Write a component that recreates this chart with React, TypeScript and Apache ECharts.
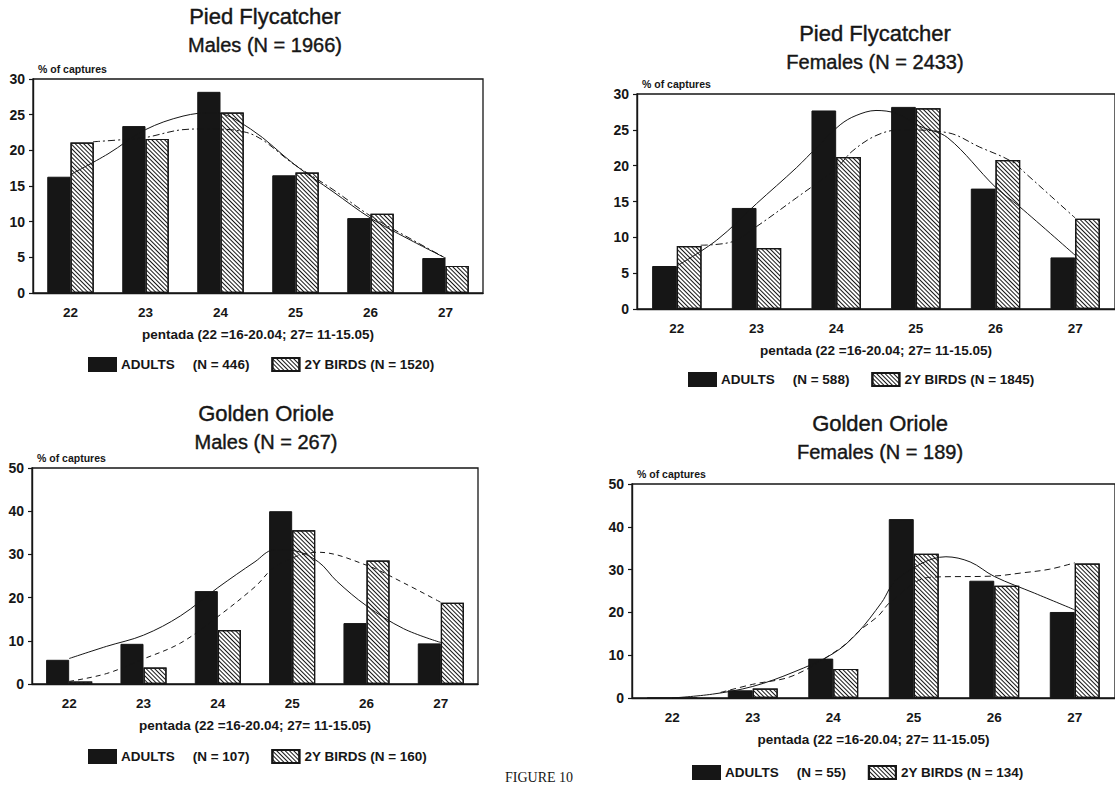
import React, { useEffect, useRef } from 'react';
import * as echarts from 'echarts';

// ---------- data ----------
const categories = ['22', '23', '24', '25', '26', '27'];
const xAxisTitle = 'pentada (22 =16-20.04; 27= 11-15.05)';
const yAxisTitle = '% of captures';

// Pied Flycatcher, males
const pfMaleAdults = [16.3, 23.4, 28.2, 16.5, 10.5, 4.9];
const pfMaleBirds = [21.1, 21.6, 25.3, 16.9, 11.1, 3.8];
const pfMaleAdultCurve = [[22, 16.6], [22.5, 19.5], [23, 22.9], [23.5, 24.8], [23.9, 25.3], [24.4, 23.0], [25, 17.9], [25.5, 14.2], [26, 10.5], [26.5, 7.6], [27, 4.9]];
const pfMaleBirdCurve = [[22.3, 21.2], [22.7, 21.5], [23, 21.8], [23.5, 22.9], [23.8, 23.0], [24.35, 22.5], [25, 17.9], [25.5, 14.5], [26, 10.8], [26.5, 7.8], [27, 4.9]];

// Pied Flycatcher, females
const pfFemaleAdults = [6.0, 14.1, 27.7, 28.2, 16.8, 7.2];
const pfFemaleBirds = [8.8, 8.5, 21.2, 28.0, 20.8, 12.6];
const pfFemaleAdultCurve = [[22, 6.0], [22.5, 9.6], [23, 14.7], [23.5, 19.7], [23.76, 22.6], [24.05, 25.7], [24.25, 27.0], [24.5, 27.7], [24.75, 27.3], [25.05, 25.5], [25.4, 23.9], [26, 17.0], [26.3, 14.3], [27, 7.5]];
const pfFemaleBirdCurve = [[22.3, 8.9], [22.7, 9.4], [23, 11.5], [23.5, 15.5], [24, 19.6], [24.2, 22.0], [24.5, 24.2], [24.8, 25.0], [25.4, 24.6], [25.8, 22.6], [26.2, 20.6], [26.4, 18.7], [26.7, 15.7], [27, 12.7]];

// Golden Oriole, males
const goMaleAdults = [5.6, 9.3, 21.5, 40.0, 14.1, 9.4];
const goMaleBirds = [0.6, 3.8, 12.5, 35.6, 28.6, 18.8];
const goMaleAdultCurve = [[22, 5.9], [22.5, 8.7], [23, 11.3], [23.5, 15.8], [24, 22.3], [24.5, 28.3], [24.75, 31.0], [25, 30.9], [25.35, 28.3], [25.6, 23.8], [26, 18.1], [26.5, 12.8], [27, 9.6]];
const goMaleBirdCurve = [[22, 0.6], [22.5, 2.4], [23, 5.8], [23.5, 9.5], [24, 15.6], [24.5, 22.5], [24.8, 27.5], [25.35, 30.5], [26, 27.5], [26.5, 23.4], [27, 18.9]];

// Golden Oriole, females
const goFemaleAdults = [0, 1.8, 9.2, 41.8, 27.4, 20.1];
const goFemaleBirds = [0, 2.2, 6.8, 33.7, 26.2, 31.4];
const goFemaleAdultCurve = [[22, 0], [22.5, 0.9], [23, 2.7], [23.5, 6.0], [24, 10.4], [24.3, 15.2], [24.6, 22.3], [24.8, 27.9], [25.4, 33.0], [25.7, 31.8], [26, 28.4], [26.5, 24.5], [27, 20.6]];
const goFemaleBirdCurve = [[22.6, 1.3], [23, 3.2], [23.5, 5.2], [24.1, 11.8], [24.33, 15.8], [24.56, 19.2], [24.71, 22.4], [25.2, 28.2], [26, 28.5], [26.33, 29.2], [26.69, 30.1], [27, 31.6]];

const titles = ['Pied Flycatcher', 'Pied Flycatcher', 'Golden Oriole', 'Golden Oriole'];
const subtitles = ['Males (N = 1966)', 'Females (N = 2433)', 'Males (N = 267)', 'Females (N = 189)'];
const adultLegends = ['ADULTS (N = 446)', 'ADULTS (N = 588)', 'ADULTS (N = 107)', 'ADULTS (N = 55)'];
const birdLegends = ['2Y BIRDS (N = 1520)', '2Y BIRDS (N = 1845)', '2Y BIRDS (N = 160)', '2Y BIRDS (N = 134)'];
const yMaxes = [30, 30, 50, 50];
const yIntervals = [5, 5, 10, 10];
const figureCaption = 'FIGURE 10';

// ---------- layout / style ----------
const FONT = '"Liberation Sans", Arial, Helvetica, sans-serif';
const INK = '#161616';

const layouts = [
  { left: 33, top: 79, width: 450, height: 214, titleX: 265, titleY: 16, subY: 45, legendLeft: 88, legendTop: 357 },
  { left: 637, top: 94, width: 492, height: 215, titleX: 875, titleY: 33, subY: 62, legendLeft: 688, legendTop: 372 },
  { left: 32, top: 468, width: 446, height: 216, titleX: 266, titleY: 413, subY: 442, legendLeft: 88, legendTop: 749 },
  { left: 632, top: 484, width: 494, height: 214, titleX: 880, titleY: 423, subY: 452, legendLeft: 692, legendTop: 765 },
];

const dashStyles: any[] = [[7, 3, 2, 3], [7, 3, 2, 3], [5, 4], [6, 4]];

const hatchDecal = {
  symbol: 'rect',
  symbolSize: 1,
  color: INK,
  dashArrayX: [1, 0],
  dashArrayY: [1, 1.7],
  rotation: Math.PI / 4,
};

function buildOption() {
  const adultsAll = [pfMaleAdults, pfFemaleAdults, goMaleAdults, goFemaleAdults];
  const birdsAll = [pfMaleBirds, pfFemaleBirds, goMaleBirds, goFemaleBirds];
  const adultCurves = [pfMaleAdultCurve, pfFemaleAdultCurve, goMaleAdultCurve, goFemaleAdultCurve];
  const birdCurves = [pfMaleBirdCurve, pfFemaleBirdCurve, goMaleBirdCurve, goFemaleBirdCurve];

  const grid: any[] = [];
  const xAxis: any[] = [];
  const yAxis: any[] = [];
  const series: any[] = [];
  const legend: any[] = [];
  const graphic: any[] = [];

  layouts.forEach((l, i) => {
    grid.push({
      left: l.left, top: l.top, width: l.width, height: l.height,
      show: true, borderColor: INK, borderWidth: 1.3, containLabel: false,
    });
    xAxis.push({
      type: 'category', gridIndex: i, data: categories, boundaryGap: true,
      axisLine: { lineStyle: { color: INK, width: 1.4 } },
      axisTick: { alignWithLabel: true, length: 4, lineStyle: { color: INK, width: 1.2 } },
      axisLabel: { margin: 12, color: INK, fontFamily: FONT, fontWeight: 'bold', fontSize: 13.5 },
      name: xAxisTitle, nameLocation: 'middle', nameGap: 34,
      nameTextStyle: { color: INK, fontFamily: FONT, fontWeight: 'bold', fontSize: 13.5 },
    });
    xAxis.push({ type: 'value', gridIndex: i, min: 21.5, max: 27.5, show: false });
    yAxis.push({
      type: 'value', gridIndex: i, min: 0, max: yMaxes[i], interval: yIntervals[i],
      splitLine: { show: false },
      axisLine: { show: true, lineStyle: { color: INK, width: 1.4 } },
      axisTick: { show: true, length: 4, lineStyle: { color: INK, width: 1.2 } },
      axisLabel: { margin: 8, color: INK, fontFamily: FONT, fontWeight: 'bold', fontSize: 14 },
      name: yAxisTitle, nameLocation: 'end', nameGap: 5,
      nameTextStyle: { color: INK, fontFamily: FONT, fontWeight: 'bold', fontSize: 10.5, align: 'left', padding: [0, 0, 0, 5] },
    });
    series.push({
      type: 'bar', name: adultLegends[i], xAxisIndex: 2 * i, yAxisIndex: i,
      data: adultsAll[i], barGap: '0%', barCategoryGap: '38%',
      itemStyle: { color: INK, borderColor: INK, borderWidth: 1 },
    });
    series.push({
      type: 'bar', name: birdLegends[i], xAxisIndex: 2 * i, yAxisIndex: i,
      data: birdsAll[i], barGap: '0%', barCategoryGap: '38%',
      itemStyle: { color: '#ffffff', borderColor: INK, borderWidth: 1.2, decal: hatchDecal },
    });
    series.push({
      type: 'line', xAxisIndex: 2 * i + 1, yAxisIndex: i, data: adultCurves[i],
      smooth: 0.35, symbol: 'none', silent: true, z: 5,
      lineStyle: { color: INK, width: 1 },
    });
    series.push({
      type: 'line', xAxisIndex: 2 * i + 1, yAxisIndex: i, data: birdCurves[i],
      smooth: 0.35, symbol: 'none', silent: true, z: 5,
      lineStyle: { color: INK, width: 1, type: dashStyles[i] },
    });
    legend.push({
      data: [adultLegends[i], birdLegends[i]],
      left: l.legendLeft, top: l.legendTop, orient: 'horizontal', padding: 0,
      itemWidth: 27, itemHeight: 13, itemGap: 22, icon: 'rect', selectedMode: false,
      formatter: (name: string) => {
        if (name.indexOf('ADULTS') === 0) {
          return '{a|ADULTS}{s|}{a|' + name.slice(7) + '}';
        }
        return '{a|' + name + '}';
      },
      textStyle: {
        color: INK, fontFamily: FONT, fontWeight: 'bold', fontSize: 13.5,
        rich: {
          a: { color: INK, fontFamily: FONT, fontWeight: 'bold', fontSize: 13.5 },
          s: { width: 18 },
        },
      },
    });
    graphic.push({
      type: 'text', x: l.titleX, y: l.titleY,
      style: { text: titles[i], fill: INK, font: '22px ' + FONT, textAlign: 'center', textVerticalAlign: 'middle', stroke: INK, lineWidth: 0.4 },
    });
    graphic.push({
      type: 'text', x: l.titleX, y: l.subY,
      style: { text: subtitles[i], fill: INK, font: '20px ' + FONT, textAlign: 'center', textVerticalAlign: 'middle', stroke: INK, lineWidth: 0.4 },
    });
  });

  graphic.push({
    type: 'text', x: 505, y: 770,
    style: { text: figureCaption, fill: INK, font: '14px "Liberation Serif", "DejaVu Serif", serif', textAlign: 'left', textVerticalAlign: 'top' },
  });

  return {
    animation: false,
    backgroundColor: '#ffffff',
    textStyle: { fontFamily: FONT },
    grid, xAxis, yAxis, series, legend, graphic,
  };
}

export default function App() {
  const ref = useRef<HTMLDivElement>(null);
  useEffect(() => {
    if (!ref.current) return;
    const chart = echarts.init(ref.current, undefined, { renderer: 'svg' });
    chart.setOption(buildOption() as any);
    return () => chart.dispose();
  }, []);
  return (
    <div
      ref={ref}
      style={{ position: 'absolute', left: 0, top: 0, width: 1115, height: 787, background: '#fff', overflow: 'hidden' }}
    />
  );
}
